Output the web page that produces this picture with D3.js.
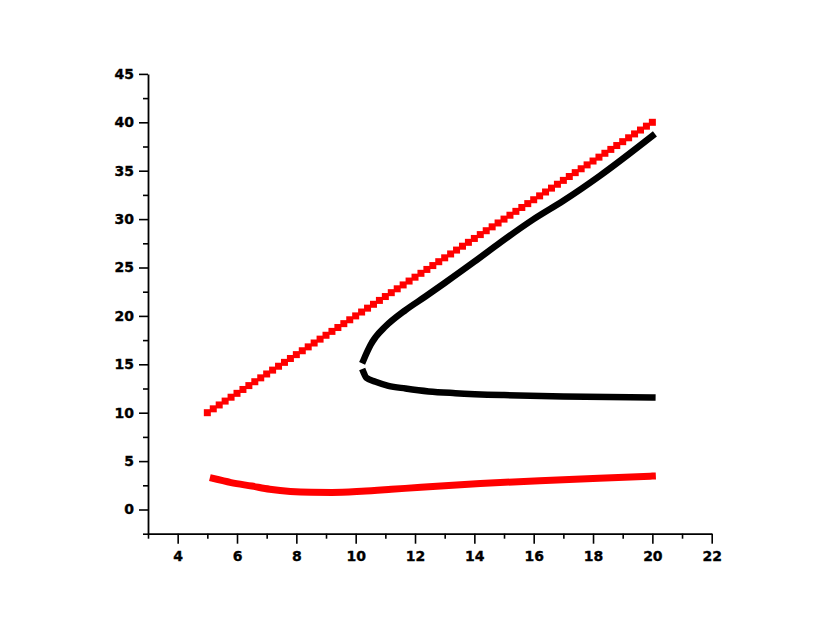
<!DOCTYPE html>
<html>
<head>
<meta charset="utf-8">
<script src="https://cdn.jsdelivr.net/npm/d3@7"></script>
<style>
  body { margin: 0; background: #fff; }
  .axis text { font-family: "DejaVu Sans", sans-serif; font-weight: bold; font-size: 14px; fill: #000; stroke: #000; stroke-width: 0.35px; }
</style>
</head>
<body>
<svg id="chart" width="830" height="642"></svg>
<script>
// upper red branch (markers)
var redUpperX = [5, 5.2, 5.4, 5.6, 5.8, 6, 6.2, 6.4, 6.6, 6.8, 7, 7.2, 7.4, 7.6, 7.8, 8, 8.2, 8.4, 8.6, 8.8,
  9, 9.2, 9.4, 9.6, 9.8, 10, 10.2, 10.4, 10.6, 10.8, 11, 11.2, 11.4, 11.6, 11.8, 12, 12.2, 12.4, 12.6, 12.8,
  13, 13.2, 13.4, 13.6, 13.8, 14, 14.2, 14.4, 14.6, 14.8, 15, 15.2, 15.4, 15.6, 15.8, 16, 16.2, 16.4, 16.6, 16.8,
  17, 17.2, 17.4, 17.6, 17.8, 18, 18.2, 18.4, 18.6, 18.8, 19, 19.2, 19.4, 19.6, 19.8, 20];
var redUpperY = [10, 10.4, 10.8, 11.2, 11.6, 12, 12.4, 12.8, 13.2, 13.6, 14, 14.4, 14.8, 15.2, 15.6, 16, 16.4, 16.8, 17.2, 17.6,
  18, 18.4, 18.8, 19.2, 19.6, 20, 20.4, 20.8, 21.2, 21.6, 22, 22.4, 22.8, 23.2, 23.6, 24, 24.4, 24.8, 25.2, 25.6,
  26, 26.4, 26.8, 27.2, 27.6, 28, 28.4, 28.8, 29.2, 29.6, 30, 30.4, 30.8, 31.2, 31.6, 32, 32.4, 32.8, 33.2, 33.6,
  34, 34.4, 34.8, 35.2, 35.6, 36, 36.4, 36.8, 37.2, 37.6, 38, 38.4, 38.8, 39.2, 39.6, 40];

// lower red branch
var redLowerX = [5.2, 5.8, 6.5, 7.1, 7.8, 8.5, 9.2, 10.2, 11.2, 12.2, 14.2, 16.2, 18.2, 20];
var redLowerY = [3.2, 2.78, 2.42, 2.1, 1.86, 1.77, 1.76, 1.88, 2.08, 2.3, 2.68, 2.98, 3.22, 3.45];

// black branches (fold near x = 10.26)
var blackUpperX = [10.26, 10.39, 10.5, 10.67, 11.0, 11.68, 12.35, 13.0, 14.0, 14.88, 16.0, 17.0, 18.24, 20];
var blackUpperY = [15.4, 16.3, 17.0, 17.8, 18.9, 20.6, 22.0, 23.4, 25.6, 27.6, 30.0, 31.9, 34.5, 38.6];
var blackLowerX = [10.26, 10.36, 10.67, 11.1, 11.68, 12.46, 13.36, 15, 17, 20];
var blackLowerY = [14.2, 13.6, 13.2, 12.78, 12.5, 12.2, 12.02, 11.82, 11.68, 11.58];

// ticks
var xMajor = [4, 6, 8, 10, 12, 14, 16, 18, 20, 22];
var xMinor = [3, 5, 7, 9, 11, 13, 15, 17, 19, 21];
var yMajor = [0, 5, 10, 15, 20, 25, 30, 35, 40, 45];
var yMinor = [-2.5, 2.5, 7.5, 12.5, 17.5, 22.5, 27.5, 32.5, 37.5, 42.5];

var svg = d3.select('#chart');

var x = d3.scaleLinear([3, 22], [148, 711.7]);
var y = d3.scaleLinear([-2.5, 45], [533.7, 73.9]);

function zip(xs, ys) {
    return xs.map(function(v, i) { return [v, ys[i]]; });
}

// axes
var xAxisG = svg.append('g').attr('class', 'axis').attr('transform', 'translate(0,' + y(-2.5) + ')');
xAxisG.call(d3.axisBottom(x).tickValues(xMajor).tickSize(10).tickSizeOuter(0).tickPadding(7).tickFormat(d3.format('d')));
xAxisG.append('g').call(d3.axisBottom(x).tickValues(xMinor).tickSize(5).tickSizeOuter(0).tickFormat(''))
    .select('.domain').remove();

var yAxisG = svg.append('g').attr('class', 'axis').attr('transform', 'translate(' + x(3) + ',0)');
yAxisG.call(d3.axisLeft(y).tickValues(yMajor).tickSize(9).tickSizeOuter(0).tickPadding(5).tickFormat(d3.format('d')));
yAxisG.append('g').call(d3.axisLeft(y).tickValues(yMinor).tickSize(5).tickSizeOuter(0).tickFormat(''))
    .select('.domain').remove();

svg.selectAll('.axis path, .axis line').attr('stroke', '#000').attr('stroke-width', 1.6);
svg.selectAll('.axis .domain').attr('stroke-width', 1.8);

var line = d3.line()
    .x(function(d) { return x(d[0]); })
    .y(function(d) { return y(d[1]); })
    .curve(d3.curveMonotoneX);

// lower red
svg.append('path')
    .datum(zip(redLowerX, redLowerY))
    .attr('d', line)
    .attr('fill', 'none')
    .attr('stroke', '#ff0000')
    .attr('stroke-width', 7)
    .attr('stroke-linecap', 'square');

// black branches
[zip(blackUpperX, blackUpperY), zip(blackLowerX, blackLowerY)].forEach(function(pts) {
    svg.append('path')
        .datum(pts)
        .attr('d', line)
        .attr('fill', 'none')
        .attr('stroke', '#000')
        .attr('stroke-width', 6.5)
        .attr('stroke-linecap', 'square');
});

// upper red markers
var sq = 7;
svg.append('g').selectAll('rect')
    .data(zip(redUpperX, redUpperY))
    .enter()
    .append('rect')
    .attr('x', function(d) { return x(d[0]) - sq / 2; })
    .attr('y', function(d) { return y(d[1]) - sq / 2; })
    .attr('width', sq)
    .attr('height', sq)
    .attr('fill', '#ff0000');
</script>
</body>
</html>
